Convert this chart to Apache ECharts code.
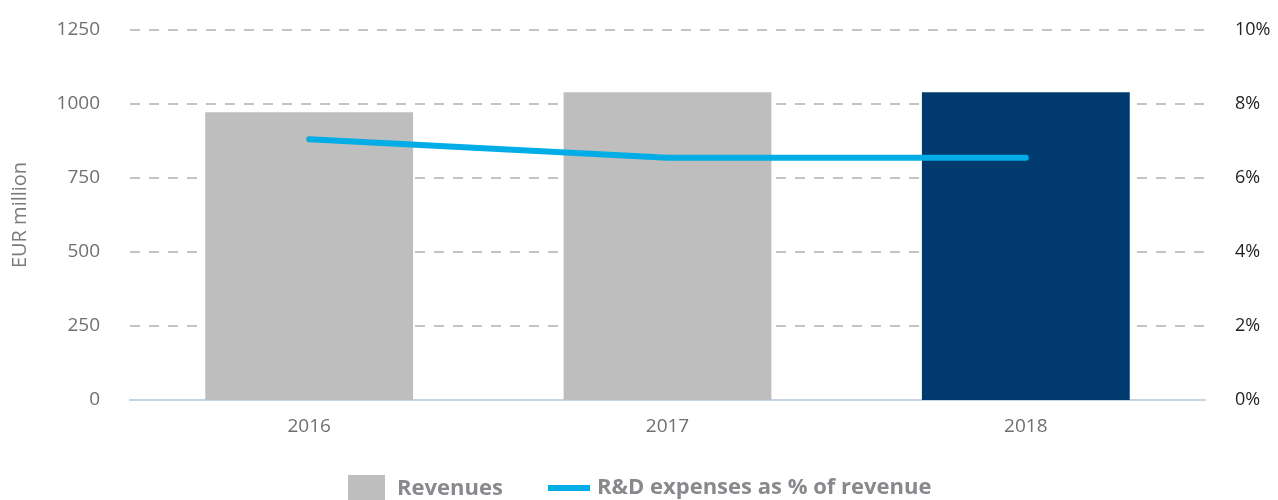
<!DOCTYPE html>
<html>
<head>
<meta charset="utf-8">
<script src="https://cdn.jsdelivr.net/npm/echarts@6/dist/echarts.min.js"></script>
<style>
  html, body { margin: 0; padding: 0; background: #fff; }
  #chart { width: 1278px; height: 500px; }
</style>
</head>
<body>
<div id="chart"></div>
<script>
var years = ['2016', '2017', '2018'];
var revenues = [972, 1040, 1040];
var rdShare = [7.05, 6.55, 6.55];
var leftTicks = [0, 250, 500, 750, 1000, 1250];

var grey = '#6f7072';
var font = '"Open Sans", sans-serif';

var chart = echarts.init(document.getElementById('chart'));
var option = {
    animation: false,
    grid: { left: 130, right: 73, top: 30, bottom: 100, outerBoundsMode: 'none' },
    legend: [{
        left: 348, top: 475, padding: 0,
        itemWidth: 37, itemHeight: 28,
        data: [{ name: 'Revenues', icon: 'rect' }],
        textStyle: { color: '#88898c', fontFamily: font, fontWeight: 'bold', fontSize: 22, padding: [0, 0, 0, 7] }
    }, {
        left: 548, top: 477, padding: 0,
        itemWidth: 42, itemHeight: 6,
        data: [{ name: 'R&D expenses as % of revenue', icon: 'rect' }],
        textStyle: { color: '#88898c', fontFamily: font, fontWeight: 'bold', fontSize: 22, padding: [0, 0, 0, 2] }
    }],
    xAxis: {
        type: 'category',
        data: years,
        axisTick: { show: false },
        axisLine: { lineStyle: { color: '#c6d3e4', width: 2 } },
        axisLabel: { color: grey, fontFamily: font, fontSize: 19, margin: 17 }
    },
    yAxis: [{
        type: 'value',
        min: leftTicks[0], max: leftTicks[leftTicks.length - 1], interval: 250,
        name: 'EUR million',
        nameLocation: 'middle',
        nameGap: 100,
        nameTextStyle: { color: '#7a7b7d', fontFamily: font, fontSize: 20 },
        axisLabel: { color: grey, fontFamily: font, fontSize: 19, margin: 30, formatter: function (v) { return String(v); } },
        splitLine: { lineStyle: { color: '#c3c3c3', width: 2, type: [10, 9] } }
    }, {
        type: 'value',
        min: 0, max: 10, interval: 2,
        position: 'right',
        axisLabel: { color: '#231f20', fontFamily: font, fontSize: 18, margin: 30, formatter: '{value}%' },
        splitLine: { show: false }
    }],
    series: [{
        name: 'Revenues',
        type: 'bar',
        barWidth: '58%',
        itemStyle: { color: '#bdbebd' },
        data: revenues.map(function (v, i) {
            return i === revenues.length - 1 ? { value: v, itemStyle: { color: '#003a6e' } } : v;
        })
    }, {
        name: 'R&D expenses as % of revenue',
        type: 'line',
        yAxisIndex: 1,
        symbol: 'none',
        itemStyle: { color: '#00ade6' },
        lineStyle: { color: '#00ade6', width: 6, cap: 'round', join: 'round' },
        data: rdShare
    }]
};
chart.setOption(option);
</script>
</body>
</html>
